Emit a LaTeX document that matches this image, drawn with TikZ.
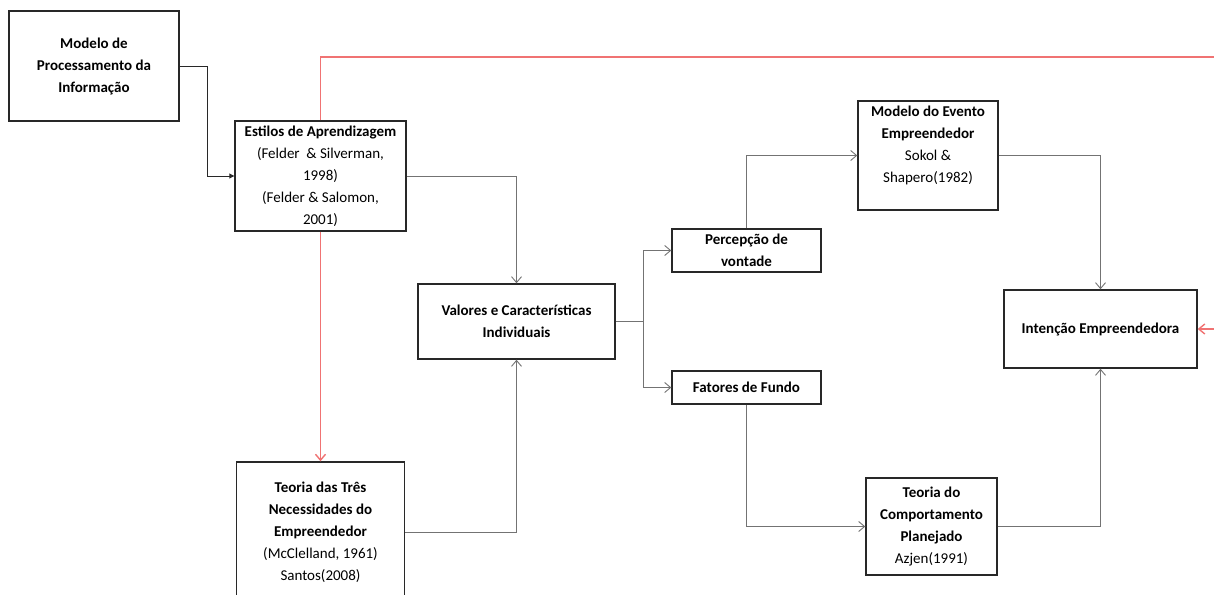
\documentclass[tikz,border=0pt]{standalone}
\usepackage{fontspec}
\setmainfont{Carlito}
\usetikzlibrary{arrows.meta}
\definecolor{boxline}{RGB}{40,40,40}
\definecolor{connline}{RGB}{115,115,115}
\definecolor{redline}{RGB}{240,115,115}
\tikzset{
  box/.style={draw=boxline, line width=1.4pt, fill=white, rectangle, align=center,
    inner sep=2pt, font=\fontsize{15}{22}\selectfont},
  label/.style={align=center, inner sep=0pt, font=\fontsize{15}{22}\selectfont},
  conn/.style={draw=connline, line width=0.9pt, -{Straight Barb[length=6pt,width=10pt]}},
  feed/.style={draw=boxline, line width=0.9pt, -{Triangle[length=5pt,width=5pt]}},
  redconn/.style={draw=redline, line width=1.4pt, -{Straight Barb[length=6pt,width=10pt]}}
}
\begin{document}
\begin{tikzpicture}[x=1pt,y=-1pt]
\useasboundingbox (0,0) rectangle (1214,594);

% boxes
\node[box, minimum width=170pt, minimum height=110pt] (mp) at (94,66)
  {\bfseries Modelo de\\ \bfseries Processamento da\\ \bfseries Informação};
\node[box, minimum width=171pt, minimum height=110pt] (ea) at (320.5,176)
  {\bfseries Estilos de Aprendizagem\\ (Felder \ \& Silverman,\\ 1998)\\ (Felder \& Salomon,\\ 2001)};
\node[box, minimum width=197pt, minimum height=75pt] (vc) at (516.5,321.5)
  {\bfseries Valores e Características\\ \bfseries Individuais};
\node[box, minimum width=149pt, minimum height=43pt] (pv) at (746.5,250.5)
  {\bfseries Percepção de\\ \bfseries vontade};
\node[box, minimum width=149pt, minimum height=33pt] (ff) at (746.5,387.5)
  {\bfseries Fatores de Fundo};
\node[box, minimum width=140pt, minimum height=109pt] (me) at (928,155.5) {};
\node[label] (metext) at (928,145.5)
  {\bfseries Modelo do Evento\\ \bfseries Empreendedor\\ Sokol \&\\ Shapero(1982)};
\node[box, minimum width=193pt, minimum height=78pt] (ie) at (1100.5,329)
  {\bfseries Intenção Empreendedora};
\node[box, minimum width=168pt, minimum height=140pt] (t3) at (320.5,532)
  {\bfseries Teoria das Três\\ \bfseries Necessidades do\\ \bfseries Empreendedor\\ (McClelland, 1961)\\ Santos(2008)};
\node[box, minimum width=131pt, minimum height=97pt] (tc) at (931.5,526.5)
  {\bfseries Teoria do\\ \bfseries Comportamento\\ \bfseries Planejado\\ Azjen(1991)};

% red links from the learning-styles box
\coordinate (rtop) at (1216,57);
\draw[redconn] (ea.south) -- (t3.north);
\draw[redconn] (ea.north) -- (ea.north |- rtop) -- (rtop) |- (ie.east);

% connectors
\coordinate (k1) at (207,176);
\draw[feed] (mp.east) -| (k1) -- (ea.west);
\draw[conn] (ea.east) -| (vc.north);
\draw[conn] (t3.east) -| (vc.south);
\coordinate (br) at (643,321.5);
\draw[connline, line width=0.9pt] (vc.east) -- (br);
\draw[conn] (br) |- (pv.west);
\draw[conn] (br) |- (ff.west);
\draw[conn] (pv.north) |- (me.west);
\draw[conn] (ff.south) |- (tc.west);
\draw[conn] (me.east) -| (ie.north);
\draw[conn] (tc.east) -| (ie.south);
\end{tikzpicture}
\end{document}
